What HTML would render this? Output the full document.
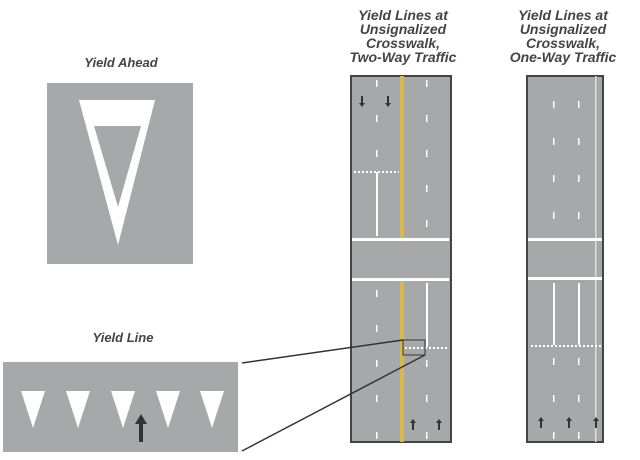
<!DOCTYPE html>
<html><head><style>body{margin:0;background:#fff}svg{display:block}text{font-family:"Liberation Sans",sans-serif;font-weight:bold;font-style:italic;fill:#444;text-anchor:middle}</style></head><body>
<svg width="640" height="460" viewBox="0 0 640 460">
<defs>
<g id="up"><rect x="-1" y="-3" width="2" height="8" fill="#333"/><polygon points="-3,-2 3,-2 0,-6" fill="#333"/></g>
<g id="dn"><rect x="-1" y="-5" width="2" height="8" fill="#333"/><polygon points="-3,2 3,2 0,6" fill="#333"/></g>
</defs>
<text x="121" y="67" font-size="13">Yield Ahead</text>
<rect x="47" y="83" width="146" height="181" fill="#a7a8aa"/>
<polygon points="79,100 155,100 118,245" fill="#fff"/>
<polygon points="94,126 141,126 118,207" fill="#a7a8aa"/>
<text x="123" y="342" font-size="13">Yield Line</text>
<rect x="3" y="362" width="235" height="90" fill="#a7a8aa"/>
<g fill="#fff">
<polygon points="21,391 45,391 33,428"/><polygon points="66,391 90,391 78,428"/><polygon points="111,391 135,391 123,428"/><polygon points="156,391 180,391 168,428"/><polygon points="200,391 224,391 212,428"/>
</g>
<rect x="139" y="423" width="4" height="19" fill="#333"/><polygon points="135,424 147,424 141,414" fill="#333"/>
<g font-size="14"><text x="403" y="20">Yield Lines at</text><text x="403" y="34">Unsignalized</text><text x="403" y="48">Crosswalk,</text><text x="403" y="62">Two-Way Traffic</text>
<text x="563" y="20">Yield Lines at</text><text x="563" y="34">Unsignalized</text><text x="563" y="48">Crosswalk,</text><text x="563" y="62">One-Way Traffic</text></g>
<!-- road 1 -->
<rect x="351" y="76" width="100" height="366" fill="#a7a8aa" stroke="#444" stroke-width="2"/>
<rect x="400" y="76" width="4" height="366" fill="#d9b84a"/>
<rect x="352" y="238" width="98" height="42" fill="#a7a8aa"/>
<rect x="352" y="238" width="97" height="3" fill="#fff"/><rect x="352" y="278" width="97" height="3" fill="#fff"/>
<g fill="#fff">
<rect x="376" y="80" width="1.5" height="7"/><rect x="376" y="115" width="1.5" height="7"/><rect x="376" y="150" width="1.5" height="7"/>
<rect x="426" y="80" width="1.5" height="7"/><rect x="426" y="115" width="1.5" height="7"/><rect x="426" y="150" width="1.5" height="7"/><rect x="426" y="185" width="1.5" height="7"/><rect x="426" y="220" width="1.5" height="7"/>
<rect x="376" y="172" width="2" height="64"/>
<rect x="376" y="290" width="1.5" height="7"/><rect x="376" y="325" width="1.5" height="7"/><rect x="376" y="360" width="1.5" height="7"/><rect x="376" y="395" width="1.5" height="7"/><rect x="376" y="432" width="1.5" height="7"/>
<rect x="426" y="283" width="2" height="64"/>
<rect x="426" y="360" width="1.5" height="7"/><rect x="426" y="395" width="1.5" height="7"/><rect x="426" y="432" width="1.5" height="7"/>
</g>
<line x1="354" y1="172" x2="399" y2="172" stroke="#fff" stroke-width="2" stroke-dasharray="2 2"/>
<line x1="405" y1="348" x2="449" y2="348" stroke="#fff" stroke-width="2" stroke-dasharray="2 2"/>
<rect x="403" y="340" width="22" height="15" fill="none" stroke="#333" stroke-width="1"/>
<use href="#dn" x="362" y="101"/><use href="#dn" x="388" y="101"/>
<use href="#up" x="413" y="425"/><use href="#up" x="439" y="425"/>
<line x1="242" y1="363" x2="403" y2="340" stroke="#333" stroke-width="1.5"/>
<line x1="242" y1="451" x2="425" y2="355" stroke="#333" stroke-width="1.5"/>
<!-- road 2 -->
<rect x="527" y="76" width="76" height="366" fill="#a7a8aa" stroke="#444" stroke-width="2"/>
<rect x="595" y="76" width="1.5" height="366" fill="#ddd"/>
<rect x="528" y="238" width="74" height="3" fill="#fff"/><rect x="528" y="277" width="74" height="3" fill="#fff"/>
<g fill="#fff">
<rect x="553" y="101" width="1.5" height="7"/><rect x="578" y="101" width="1.5" height="7"/>
<rect x="553" y="138" width="1.5" height="7"/><rect x="578" y="138" width="1.5" height="7"/>
<rect x="553" y="175" width="1.5" height="7"/><rect x="578" y="175" width="1.5" height="7"/>
<rect x="553" y="212" width="1.5" height="7"/><rect x="578" y="212" width="1.5" height="7"/>
<rect x="553" y="283" width="2" height="62"/><rect x="578" y="283" width="2" height="62"/>
<rect x="553" y="358" width="1.5" height="7"/><rect x="578" y="358" width="1.5" height="7"/>
<rect x="553" y="395" width="1.5" height="7"/><rect x="578" y="395" width="1.5" height="7"/>
<rect x="553" y="432" width="1.5" height="7"/><rect x="578" y="432" width="1.5" height="7"/>
</g>
<line x1="531" y1="346" x2="601" y2="346" stroke="#fff" stroke-width="2" stroke-dasharray="2 2"/>
<use href="#up" x="541" y="423"/><use href="#up" x="569" y="423"/><use href="#up" x="596" y="423"/>
</svg>
</body></html>
